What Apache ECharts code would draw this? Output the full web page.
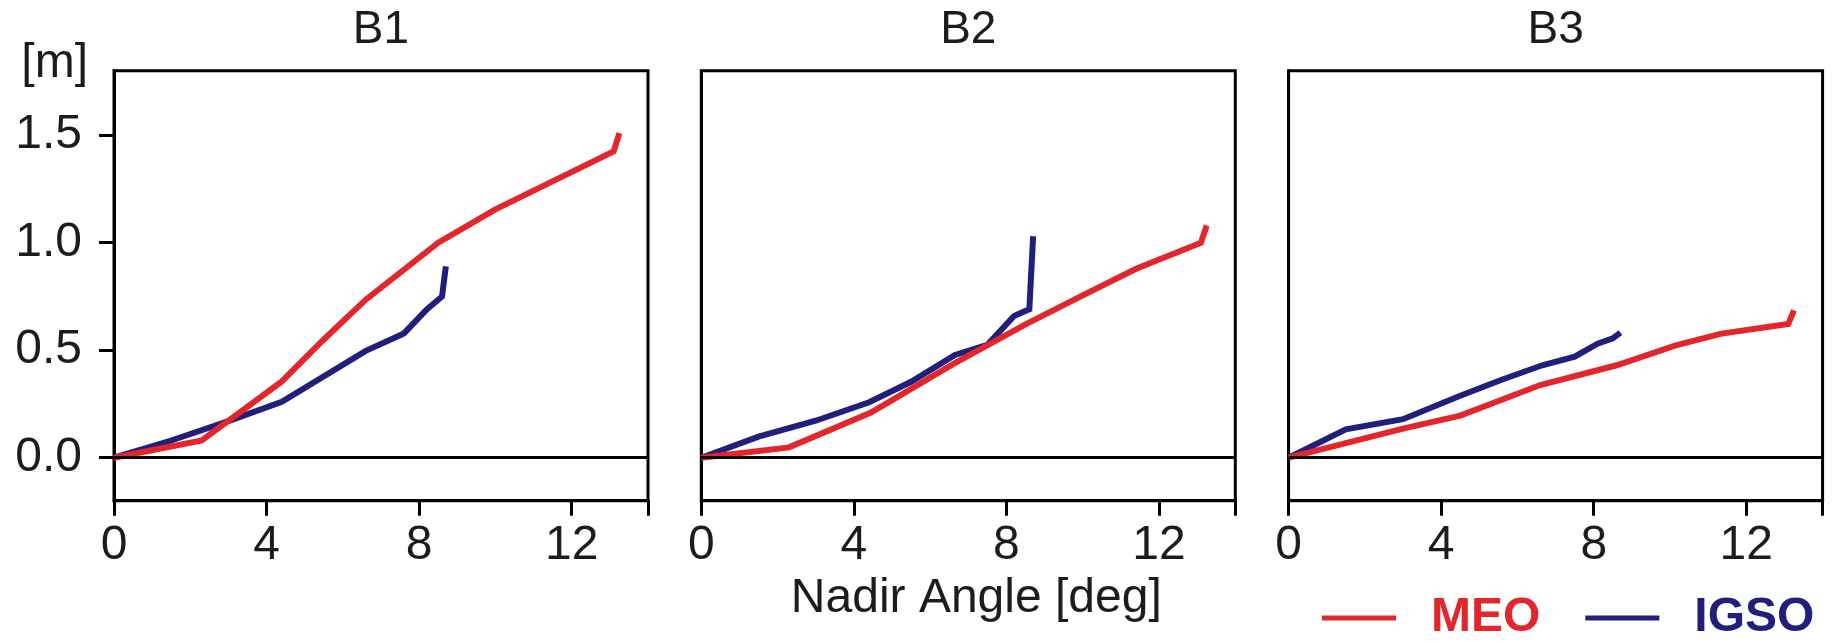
<!DOCTYPE html>
<html>
<head>
<meta charset="utf-8">
<script src="https://cdn.jsdelivr.net/npm/echarts@6/dist/echarts.min.js"></script>
<style>
html,body{margin:0;padding:0;background:#fff;}
#chart{width:1835px;height:642px;}
</style>
</head>
<body>
<div id="chart"></div>
<script>
// ---- Data (nadir angle [deg] vs. value [m]) ----
const panelTitles = ['B1', 'B2', 'B3'];
const seriesNames = ['MEO', 'IGSO'];
const xTickValues = [0, 4, 8, 12];
const yTickValues = [0, 0.5, 1.0, 1.5];

const b1MeoAngle = [0, 2.3, 4.4, 5.5, 6.6, 8.5, 10.0, 13.1, 13.25];
const b1MeoValue = [0, 0.08, 0.355, 0.55, 0.735, 1.0, 1.155, 1.425, 1.51];
const b1IgsoAngle = [0, 1.5, 3.0, 4.4, 6.6, 7.6, 8.2, 8.6, 8.7];
const b1IgsoValue = [0, 0.08, 0.17, 0.26, 0.497, 0.578, 0.69, 0.75, 0.89];

const b2MeoAngle = [0, 2.3, 4.45, 6.6, 8.5, 10.0, 11.4, 13.1, 13.25];
const b2MeoValue = [0, 0.048, 0.21, 0.435, 0.62, 0.755, 0.879, 1.0, 1.08];
const b2IgsoAngle = [0, 1.5, 3.0, 4.4, 5.5, 6.65, 7.5, 8.2, 8.6, 8.7];
const b2IgsoValue = [0, 0.098, 0.172, 0.258, 0.353, 0.478, 0.525, 0.659, 0.69, 1.03];

const b3MeoAngle = [0, 3.0, 4.5, 6.6, 8.6, 10.15, 11.35, 13.1, 13.25];
const b3MeoValue = [0, 0.135, 0.196, 0.338, 0.43, 0.522, 0.577, 0.622, 0.685];
const b3IgsoAngle = [0, 1.5, 3.0, 4.45, 5.55, 6.65, 7.5, 8.1, 8.5, 8.7];
const b3IgsoValue = [0, 0.132, 0.179, 0.285, 0.36, 0.43, 0.47, 0.53, 0.555, 0.582];

// ---- Styling ----
const RED = '#e3262b';
const NAVY = '#221e7c';
const TXT = '#1c1c1c';
const FONT = "'Liberation Sans', Arial, sans-serif";

const panels = [
  {meo: [b1MeoAngle, b1MeoValue], igso: [b1IgsoAngle, b1IgsoValue]},
  {meo: [b2MeoAngle, b2MeoValue], igso: [b2IgsoAngle, b2IgsoValue]},
  {meo: [b3MeoAngle, b3MeoValue], igso: [b3IgsoAngle, b3IgsoValue]}
];

const gridLeft = [114, 701.3, 1288.6];
const gridTop = 70.7, gridW = 534, gridH = 430;

function zip(a, b) { return a.map((x, i) => [x, b[i]]); }
function textWidth(t, font) {
  const c = document.createElement('canvas').getContext('2d');
  c.font = font; return c.measureText(t).width;
}

const titleFontSize = 46;
const titles = panelTitles.map((t, i) => {
  const w = textWidth(t, titleFontSize + 'px ' + FONT);
  return {
    text: t,
    left: gridLeft[i] + gridW / 2 - w / 2,
    top: 7,
    padding: 0,
    textStyle: {fontSize: titleFontSize, fontWeight: 'normal', color: TXT, fontFamily: FONT}
  };
});

const grids = gridLeft.map(l => ({
  left: l, top: gridTop, width: gridW, height: gridH,
  show: true, borderColor: '#000', borderWidth: 3, backgroundColor: 'transparent'
}));

const xAxes = gridLeft.map((l, i) => ({
  gridIndex: i, type: 'value', min: 0, max: 14,
  splitLine: {show: false},
  axisLine: {show: true, onZero: false, lineStyle: {color: '#000', width: 3}},
  axisTick: {show: true, inside: false, length: 15, customValues: xTickValues.concat([14]), lineStyle: {color: '#000', width: 3}},
  axisLabel: {show: true, customValues: xTickValues, margin: 21, fontSize: 48, color: TXT, fontFamily: FONT},
  name: i === 1 ? 'Nadir Angle [deg]' : '',
  nameLocation: 'middle', nameGap: 71,
  nameTextStyle: {fontSize: 48, color: TXT, fontFamily: FONT, padding: [0, 0, 0, 16]}
}));

const yAxes = gridLeft.map((l, i) => ({
  gridIndex: i, type: 'value', min: -0.2, max: 1.8,
  splitLine: {show: false},
  axisLine: {show: true, onZero: false, lineStyle: {color: '#000', width: 3}},
  axisTick: {show: i === 0, inside: false, length: 15, customValues: yTickValues, lineStyle: {color: '#000', width: 3}},
  axisLabel: {show: i === 0, customValues: yTickValues, margin: 32, fontSize: 48, color: TXT, fontFamily: FONT,
    formatter: v => Number(v).toFixed(1)},
  name: i === 0 ? '[m]' : '',
  nameLocation: 'end', nameGap: 7,
  nameTextStyle: {fontSize: 48, color: TXT, fontFamily: FONT, align: 'right', verticalAlign: 'middle', padding: [0, 26, 0, 0]}
}));

const series = [];
panels.forEach((p, i) => {
  series.push({
    type: 'line', name: 'IGSO', xAxisIndex: i, yAxisIndex: i,
    data: zip(p.igso[0], p.igso[1]),
    showSymbol: false, symbol: 'none',
    lineStyle: {color: NAVY, width: 6, join: 'miter'},
    itemStyle: {color: NAVY},
    markLine: {
      silent: true, symbol: ['none', 'none'], animation: false,
      label: {show: false},
      lineStyle: {color: '#000', width: 3, type: 'solid'},
      data: [{yAxis: 0}]
    }
  });
  series.push({
    type: 'line', name: 'MEO', xAxisIndex: i, yAxisIndex: i,
    data: zip(p.meo[0], p.meo[1]),
    showSymbol: false, symbol: 'none',
    lineStyle: {color: RED, width: 6, join: 'miter'},
    itemStyle: {color: RED}
  });
});

const chart = echarts.init(document.getElementById('chart'), null, {renderer: 'canvas'});
chart.setOption({
  animation: false,
  backgroundColor: '#fff',
  title: titles,
  grid: grids,
  xAxis: xAxes,
  yAxis: yAxes,
  legend: {
    left: 1322, top: 594, padding: 0,
    icon: 'rect', itemWidth: 74, itemHeight: 5, itemGap: 45,
    selectedMode: false,
    data: [
      {name: seriesNames[0], textStyle: {color: RED}},
      {name: seriesNames[1], textStyle: {color: NAVY}}
    ],
    textStyle: {fontSize: 48, fontWeight: 'bold', fontFamily: FONT, padding: [0, 0, 0, 30]}
  },
  series: series
});
</script>
</body>
</html>
